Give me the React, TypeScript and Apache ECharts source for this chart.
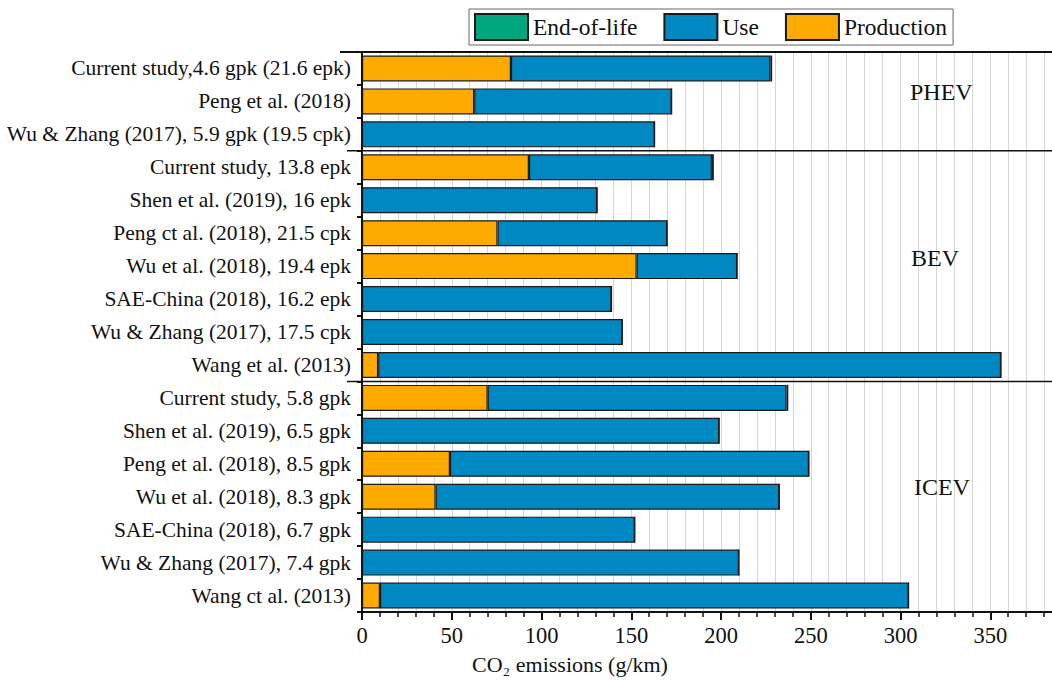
import React, { useEffect, useRef } from "react";
import * as echarts from "echarts";

const categories = [
  "Current study,4.6 gpk (21.6 epk)",
  "Peng et al. (2018)",
  "Wu & Zhang (2017), 5.9 gpk (19.5 cpk)",
  "Current study, 13.8 epk",
  "Shen et al. (2019), 16 epk",
  "Peng ct al. (2018), 21.5 cpk",
  "Wu et al. (2018), 19.4 epk",
  "SAE-China (2018), 16.2 epk",
  "Wu & Zhang (2017), 17.5 cpk",
  "Wang et al. (2013)",
  "Current study, 5.8 gpk",
  "Shen et al. (2019), 6.5 gpk",
  "Peng et al. (2018), 8.5 gpk",
  "Wu et al. (2018), 8.3 gpk",
  "SAE-China (2018), 6.7 gpk",
  "Wu & Zhang (2017), 7.4 gpk",
  "Wang ct al. (2013)",
];

const production = [83, 62.5, 0, 93, 0, 75.5, 153, 0, 0, 9, 70, 0, 49, 41, 0, 0, 10];
const use = [144.5, 110, 163, 102, 131, 94.5, 56, 139, 145, 347, 166.5, 199, 200, 191.5, 152, 210, 294.5];
const endOfLife = [1, 0, 0, 1, 0, 0, 0, 0, 0, 0, 1, 0, 0, 0, 0, 0, 0];

const groupLabels = ["PHEV", "BEV", "ICEV"];
const xTicks = { min: 0, max: 400, interval: 50 };

const FONT = "Liberation Serif";
const BORDER = "#1a1a1a";

export default function App() {
  const ref = useRef<HTMLDivElement>(null);

  useEffect(() => {
    document.documentElement.style.overflow = "hidden";
    document.body.style.overflow = "hidden";
    const chart = echarts.init(ref.current!, null, { renderer: "svg" });
    const option: any = {
      animation: false,
      backgroundColor: "#ffffff",
      textStyle: { fontFamily: FONT },
      legend: {
        data: ["End-of-life", "Use", "Production"],
        icon: "rect",
        left: 469,
        top: 9,
        orient: "horizontal",
        itemWidth: 53,
        itemHeight: 26,
        itemGap: 26,
        padding: [4, 6, 4, 5],
        borderColor: "#666",
        borderWidth: 1,
        textStyle: { fontFamily: FONT, fontSize: 23.5, color: "#111" },
      },
      grid: { left: 362, right: 0, top: 52, bottom: 68 },
      xAxis: {
        type: "value",
        min: xTicks.min,
        max: xTicks.max,
        interval: xTicks.interval,
        axisLine: { show: true, lineStyle: { color: "#111", width: 2 } },
        axisTick: { show: true, length: 8, lineStyle: { color: "#111", width: 2 } },
        minorTick: { show: true, splitNumber: 5, length: 5, lineStyle: { color: "#111", width: 1.5 } },
        splitLine: { show: true, lineStyle: { color: "#d6d6d6", width: 1 } },
        minorSplitLine: { show: true, lineStyle: { color: "#d6d6d6", width: 1 } },
        axisLabel: {
          fontFamily: FONT,
          fontSize: 22.5,
          color: "#111",
          margin: 12,
          showMaxLabel: false,
        },
      },
      yAxis: {
        type: "category",
        data: categories,
        inverse: true,
        axisLine: { show: true, lineStyle: { color: "#111", width: 2 } },
        axisTick: { show: true, length: 5, lineStyle: { color: "#111", width: 2 } },
        axisLabel: { fontFamily: FONT, fontSize: 21.5, color: "#111", margin: 11 },
        splitLine: { show: false },
      },
      series: [
        {
          name: "Production",
          type: "bar",
          stack: "total",
          data: production,
          barWidth: 26,
          itemStyle: { color: "#FFAA00", borderColor: BORDER, borderWidth: 1.2 },
        },
        {
          name: "Use",
          type: "bar",
          stack: "total",
          data: use,
          barWidth: 26,
          itemStyle: { color: "#0088C3", borderColor: BORDER, borderWidth: 1.2 },
        },
        {
          name: "End-of-life",
          type: "bar",
          stack: "total",
          data: endOfLife,
          barWidth: 26,
          itemStyle: { color: "#00A77E", borderColor: BORDER, borderWidth: 1.2 },
        },
      ],
    };
    chart.setOption(option);

    const yc = (i: number) => chart.convertToPixel({ yAxisIndex: 0 }, categories[i]) as number;
    const step = yc(1) - yc(0);
    const topY = yc(0) - step / 2;
    const sep1 = (yc(2) + yc(3)) / 2;
    const sep2 = (yc(9) + yc(10)) / 2;
    const W = 1080;
    chart.setOption({
      graphic: [
        { type: "line", shape: { x1: 340, y1: topY, x2: W, y2: topY }, style: { stroke: "#111", lineWidth: 2 }, z: 100 },
        { type: "line", shape: { x1: 347, y1: sep1, x2: W, y2: sep1 }, style: { stroke: "#111", lineWidth: 1.5 }, z: 100 },
        { type: "line", shape: { x1: 347, y1: sep2, x2: W, y2: sep2 }, style: { stroke: "#111", lineWidth: 1.5 }, z: 100 },
        { type: "text", x: 910, y: 92, style: { text: groupLabels[0], font: `24px ${FONT}`, fill: "#111", textVerticalAlign: "middle" }, z: 100 },
        { type: "text", x: 911, y: 258, style: { text: groupLabels[1], font: `24px ${FONT}`, fill: "#111", textVerticalAlign: "middle" }, z: 100 },
        { type: "text", x: 914, y: 487, style: { text: groupLabels[2], font: `24px ${FONT}`, fill: "#111", textVerticalAlign: "middle" }, z: 100 },
        { type: "text", x: 570, y: 664, style: { text: "CO₂ emissions (g/km)", font: `22px ${FONT}`, fill: "#111", textAlign: "center", textVerticalAlign: "middle" }, z: 100 },
      ],
    });

    return () => chart.dispose();
  }, []);

  return (
    <div
      ref={ref}
      style={{ position: "absolute", left: 0, top: 0, width: 1080, height: 680 }}
    />
  );
}
